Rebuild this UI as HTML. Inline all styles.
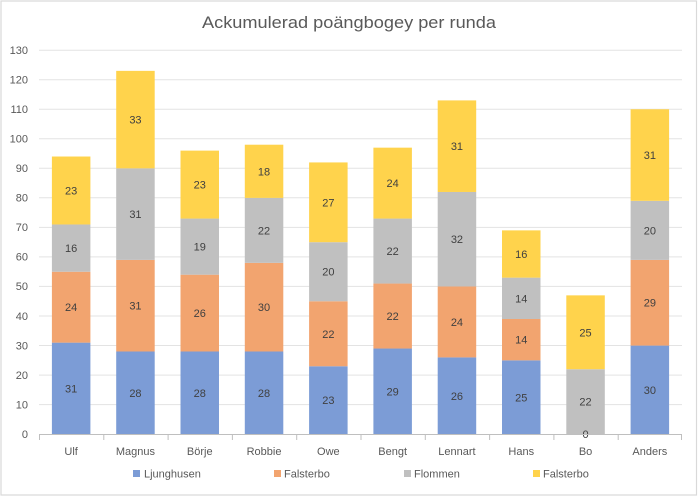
<!DOCTYPE html>
<html>
<head>
<meta charset="utf-8">
<style>
html,body{margin:0;padding:0;background:#fff;}
svg{display:block;}
text{font-family:"Liberation Sans",sans-serif;}
</style>
</head>
<body>
<svg width="698" height="497" viewBox="0 0 698 497" xmlns="http://www.w3.org/2000/svg">
<rect x="0" y="0" width="698" height="497" fill="#fff"/>
<rect x="1" y="1" width="695.5" height="494" fill="#fff" stroke="#d9d9d9" stroke-width="1.2"/>
<text x="349" y="28" text-anchor="middle" font-size="16.5" fill="#595959" textLength="294" lengthAdjust="spacingAndGlyphs">Ackumulerad poängbogey per runda</text>
<g stroke="#e3e3e3" stroke-width="1">
<line x1="39" x2="682" y1="50.2" y2="50.2"/>
<line x1="39" x2="682" y1="79.7" y2="79.7"/>
<line x1="39" x2="682" y1="109.2" y2="109.2"/>
<line x1="39" x2="682" y1="138.8" y2="138.8"/>
<line x1="39" x2="682" y1="168.3" y2="168.3"/>
<line x1="39" x2="682" y1="197.8" y2="197.8"/>
<line x1="39" x2="682" y1="227.4" y2="227.4"/>
<line x1="39" x2="682" y1="256.9" y2="256.9"/>
<line x1="39" x2="682" y1="286.4" y2="286.4"/>
<line x1="39" x2="682" y1="316.0" y2="316.0"/>
<line x1="39" x2="682" y1="345.5" y2="345.5"/>
<line x1="39" x2="682" y1="375.1" y2="375.1"/>
<line x1="39" x2="682" y1="404.6" y2="404.6"/>
</g>
<g font-size="11" fill="#595959" text-anchor="end">
<text x="28" y="54">130</text>
<text x="28" y="83.5">120</text>
<text x="28" y="113">110</text>
<text x="28" y="142.6">100</text>
<text x="28" y="172.1">90</text>
<text x="28" y="201.6">80</text>
<text x="28" y="231.2">70</text>
<text x="28" y="260.7">60</text>
<text x="28" y="290.2">50</text>
<text x="28" y="319.8">40</text>
<text x="28" y="349.3">30</text>
<text x="28" y="378.9">20</text>
<text x="28" y="408.4">10</text>
<text x="28" y="438">0</text>
</g>

<!-- Bars -->
<g>
<!-- Ulf -->
<rect x="51.9" y="342.63" width="38.5" height="91.57" fill="#7C9CD6"/>
<rect x="51.9" y="271.73" width="38.5" height="70.90" fill="#F2A46F"/>
<rect x="51.9" y="224.47" width="38.5" height="47.26" fill="#C0C0C0"/>
<rect x="51.9" y="156.52" width="38.5" height="67.95" fill="#FFD34C"/>
<!-- Magnus -->
<rect x="116.2" y="351.49" width="38.5" height="82.71" fill="#7C9CD6"/>
<rect x="116.2" y="259.91" width="38.5" height="91.58" fill="#F2A46F"/>
<rect x="116.2" y="168.34" width="38.5" height="91.57" fill="#C0C0C0"/>
<rect x="116.2" y="70.86" width="38.5" height="97.48" fill="#FFD34C"/>
<!-- Börje -->
<rect x="180.5" y="351.49" width="38.5" height="82.71" fill="#7C9CD6"/>
<rect x="180.5" y="274.68" width="38.5" height="76.81" fill="#F2A46F"/>
<rect x="180.5" y="218.56" width="38.5" height="56.12" fill="#C0C0C0"/>
<rect x="180.5" y="150.62" width="38.5" height="67.94" fill="#FFD34C"/>
<!-- Robbie -->
<rect x="244.8" y="351.49" width="38.5" height="82.71" fill="#7C9CD6"/>
<rect x="244.8" y="262.87" width="38.5" height="88.62" fill="#F2A46F"/>
<rect x="244.8" y="197.88" width="38.5" height="64.99" fill="#C0C0C0"/>
<rect x="244.8" y="144.71" width="38.5" height="53.17" fill="#FFD34C"/>
<!-- Owe -->
<rect x="309.1" y="366.26" width="38.5" height="67.94" fill="#7C9CD6"/>
<rect x="309.1" y="301.27" width="38.5" height="64.99" fill="#F2A46F"/>
<rect x="309.1" y="242.19" width="38.5" height="59.08" fill="#C0C0C0"/>
<rect x="309.1" y="162.43" width="38.5" height="79.76" fill="#FFD34C"/>
<!-- Bengt -->
<rect x="373.4" y="348.53" width="38.5" height="85.67" fill="#7C9CD6"/>
<rect x="373.4" y="283.55" width="38.5" height="64.98" fill="#F2A46F"/>
<rect x="373.4" y="218.56" width="38.5" height="64.99" fill="#C0C0C0"/>
<rect x="373.4" y="147.66" width="38.5" height="70.90" fill="#FFD34C"/>
<!-- Lennart -->
<rect x="437.7" y="357.40" width="38.5" height="76.80" fill="#7C9CD6"/>
<rect x="437.7" y="286.50" width="38.5" height="70.90" fill="#F2A46F"/>
<rect x="437.7" y="191.97" width="38.5" height="94.53" fill="#C0C0C0"/>
<rect x="437.7" y="100.40" width="38.5" height="91.57" fill="#FFD34C"/>
<!-- Hans -->
<rect x="502.0" y="360.35" width="38.5" height="73.85" fill="#7C9CD6"/>
<rect x="502.0" y="318.99" width="38.5" height="41.36" fill="#F2A46F"/>
<rect x="502.0" y="277.64" width="38.5" height="41.35" fill="#C0C0C0"/>
<rect x="502.0" y="230.37" width="38.5" height="47.27" fill="#FFD34C"/>
<!-- Bo -->
<rect x="566.3" y="369.21" width="38.5" height="64.99" fill="#C0C0C0"/>
<rect x="566.3" y="295.36" width="38.5" height="73.85" fill="#FFD34C"/>
<!-- Anders -->
<rect x="630.6" y="345.58" width="38.5" height="88.62" fill="#7C9CD6"/>
<rect x="630.6" y="259.91" width="38.5" height="85.67" fill="#F2A46F"/>
<rect x="630.6" y="200.83" width="38.5" height="59.08" fill="#C0C0C0"/>
<rect x="630.6" y="109.26" width="38.5" height="91.57" fill="#FFD34C"/>
</g>

<!-- Data labels -->
<g font-size="11" fill="#404040" text-anchor="middle">
<text x="71.15" y="392.4">31</text>
<text x="71.15" y="311.2">24</text>
<text x="71.15" y="252.1">16</text>
<text x="71.15" y="194.5">23</text>

<text x="135.45" y="396.8">28</text>
<text x="135.45" y="309.7">31</text>
<text x="135.45" y="218.1">31</text>
<text x="135.45" y="123.6">33</text>

<text x="199.75" y="396.8">28</text>
<text x="199.75" y="317.1">26</text>
<text x="199.75" y="250.6">19</text>
<text x="199.75" y="188.6">23</text>

<text x="264.05" y="396.8">28</text>
<text x="264.05" y="311.2">30</text>
<text x="264.05" y="234.4">22</text>
<text x="264.05" y="175.3">18</text>

<text x="328.35" y="404.2">23</text>
<text x="328.35" y="337.8">22</text>
<text x="328.35" y="275.7">20</text>
<text x="328.35" y="206.3">27</text>

<text x="392.65" y="395.4">29</text>
<text x="392.65" y="320.0">22</text>
<text x="392.65" y="255.1">22</text>
<text x="392.65" y="187.1">24</text>

<text x="456.95" y="399.8">26</text>
<text x="456.95" y="326.0">24</text>
<text x="456.95" y="243.2">32</text>
<text x="456.95" y="150.2">31</text>

<text x="521.25" y="401.3">25</text>
<text x="521.25" y="343.7">14</text>
<text x="521.25" y="302.3">14</text>
<text x="521.25" y="258.0">16</text>

<text x="585.55" y="438.2">0</text>
<text x="585.55" y="405.7">22</text>
<text x="585.55" y="336.3">25</text>

<text x="649.85" y="393.9">30</text>
<text x="649.85" y="306.7">29</text>
<text x="649.85" y="234.4">20</text>
<text x="649.85" y="159.1">31</text>
</g>

<g stroke="#bfbfbf" stroke-width="1">
<line x1="39" x2="682" y1="434.5" y2="434.5"/>
<line x1="39.5" x2="39.5" y1="434" y2="440"/>
<line x1="103.8" x2="103.8" y1="434" y2="440"/>
<line x1="168.1" x2="168.1" y1="434" y2="440"/>
<line x1="232.4" x2="232.4" y1="434" y2="440"/>
<line x1="296.7" x2="296.7" y1="434" y2="440"/>
<line x1="361" x2="361" y1="434" y2="440"/>
<line x1="425.3" x2="425.3" y1="434" y2="440"/>
<line x1="489.6" x2="489.6" y1="434" y2="440"/>
<line x1="553.9" x2="553.9" y1="434" y2="440"/>
<line x1="618.2" x2="618.2" y1="434" y2="440"/>
<line x1="681.5" x2="681.5" y1="434" y2="440"/>
</g>

<!-- Category labels -->
<g font-size="11" fill="#595959" text-anchor="middle">
<text x="71.15" y="455">Ulf</text>
<text x="135.45" y="455">Magnus</text>
<text x="199.75" y="455">Börje</text>
<text x="264.05" y="455">Robbie</text>
<text x="328.35" y="455">Owe</text>
<text x="392.65" y="455">Bengt</text>
<text x="456.95" y="455">Lennart</text>
<text x="521.25" y="455">Hans</text>
<text x="585.55" y="455">Bo</text>
<text x="649.85" y="455">Anders</text>
</g>

<!-- Legend -->
<g font-size="11" fill="#595959">
<rect x="133" y="470" width="7" height="7" fill="#7C9CD6"/>
<text x="144" y="477.5">Ljunghusen</text>
<rect x="274" y="470" width="7" height="7" fill="#F2A46F"/>
<text x="284" y="477.5">Falsterbo</text>
<rect x="404" y="470" width="7" height="7" fill="#C0C0C0"/>
<text x="414" y="477.5">Flommen</text>
<rect x="533" y="470" width="7" height="7" fill="#FFD34C"/>
<text x="543" y="477.5">Falsterbo</text>
</g>
</svg>
</body>
</html>
